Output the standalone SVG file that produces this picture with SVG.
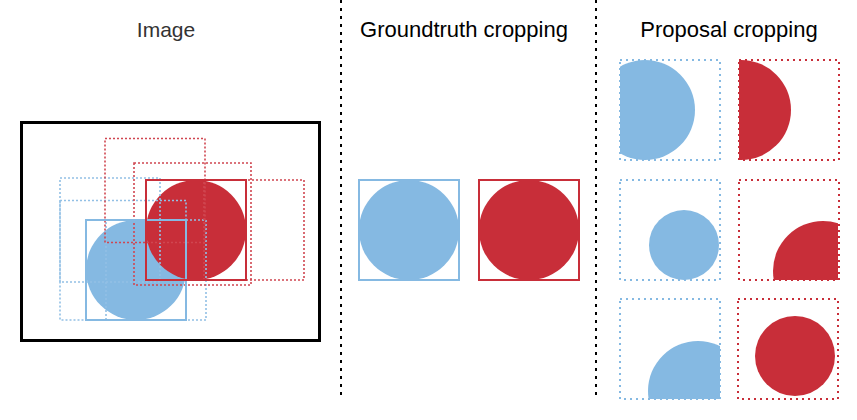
<svg xmlns="http://www.w3.org/2000/svg" width="857" height="420" viewBox="0 0 857 420">
<style>
.title{font-family:"Liberation Sans",Arial,sans-serif;font-size:22px;text-anchor:middle;fill:#000}
.blue{fill:#85B9E2}
.red{fill:#C82E39}
.bs{fill:none;stroke:#85B9E2;stroke-width:2}
.rs{fill:none;stroke:#C82E39;stroke-width:2}
.bd{fill:none;stroke:#85B9E2;stroke-width:2;stroke-dasharray:2 4}
.rd{fill:none;stroke:#C82E39;stroke-width:2;stroke-dasharray:2 4}
.rdl{fill:none;stroke:#D04650;stroke-width:1.6;stroke-dasharray:2 2}
.bdl{fill:none;stroke:#92C0E5;stroke-width:1.6;stroke-dasharray:2 2}
.div{stroke:#000;stroke-width:2;stroke-dasharray:3 5;fill:none}
</style>
<defs>
<clipPath id="c1"><rect x="620" y="60" width="100" height="100"/></clipPath>
<clipPath id="c2"><rect x="739" y="60" width="100" height="100"/></clipPath>
<clipPath id="c3"><rect x="620" y="180" width="100" height="100"/></clipPath>
<clipPath id="c4"><rect x="739" y="180" width="99" height="100"/></clipPath>
<clipPath id="c5"><rect x="620" y="299" width="100" height="100"/></clipPath>
<clipPath id="c6"><rect x="738" y="299" width="100" height="100"/></clipPath>
</defs>
<rect width="857" height="420" fill="#fff"/>

<g id="dividers">
<line class="div" x1="341" y1="0" x2="341" y2="400"/>
<line class="div" x1="596" y1="0" x2="596" y2="400"/>
</g>

<g id="titles">
<text class="title" x="166" y="37" style="font-size:21px;fill:#333">Image</text>
<text class="title" x="464" y="37">Groundtruth cropping</text>
<text class="title" x="729" y="37">Proposal cropping</text>
</g>

<g id="image">
<rect x="21.5" y="122.5" width="298" height="218" fill="none" stroke="#000" stroke-width="3"/>
<circle class="blue" cx="136" cy="270" r="50"/>
<circle class="red" cx="196" cy="230" r="50"/>
<rect class="bdl" x="60" y="178" width="100" height="104"/>
<rect class="bdl" x="60" y="200.5" width="126" height="119.5"/>
<rect class="bdl" x="106" y="220" width="100" height="100"/>
<rect class="rdl" x="105" y="138.5" width="100" height="104"/>
<rect class="rdl" x="134" y="163" width="117" height="122"/>
<rect class="rdl" x="204" y="180" width="100" height="100"/>
<rect class="bs" x="86" y="220" width="100" height="100"/>
<rect class="rs" x="146" y="180" width="100" height="100"/>
</g>

<g id="groundtruth">
<circle class="blue" cx="409" cy="230" r="50"/>
<rect class="bs" x="359" y="180" width="100" height="100"/>
<circle class="red" cx="529" cy="230" r="50"/>
<rect class="rs" x="479" y="180" width="100" height="100"/>
</g>

<g id="proposal1">
<circle class="blue" cx="645" cy="110" r="50" clip-path="url(#c1)"/>
<rect class="bd" x="620" y="60" width="100" height="100"/>
</g>
<g id="proposal2">
<circle class="red" cx="741" cy="110" r="50" clip-path="url(#c2)"/>
<rect class="rd" x="739" y="60" width="100" height="100"/>
</g>
<g id="proposal3">
<circle class="blue" cx="684" cy="245" r="35" clip-path="url(#c3)"/>
<rect class="bd" x="620" y="180" width="100" height="100"/>
</g>
<g id="proposal4">
<rect class="rd" x="739" y="180" width="100" height="100"/>
<circle class="red" cx="823" cy="271" r="50" clip-path="url(#c4)"/>
</g>
<g id="proposal5">
<rect class="bd" x="620" y="299" width="100" height="100"/>
<circle class="blue" cx="698" cy="391" r="50" clip-path="url(#c5)"/>
</g>
<g id="proposal6">
<circle class="red" cx="795" cy="356" r="40" clip-path="url(#c6)"/>
<rect class="rd" x="738" y="299" width="100" height="100"/>
</g>
</svg>
